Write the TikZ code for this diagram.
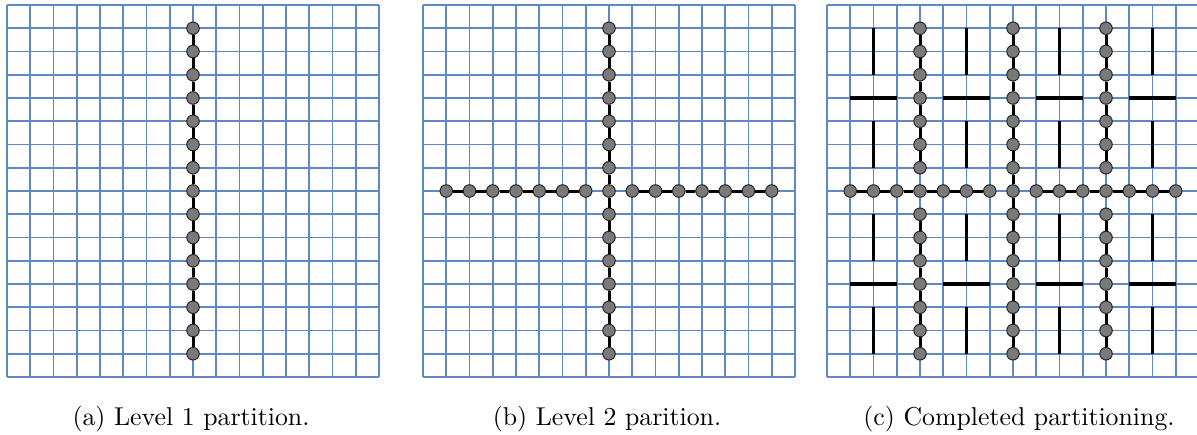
\documentclass[tikz,border=0pt]{standalone}
\definecolor{gridblue}{HTML}{6088C4}
\definecolor{dotgray}{HTML}{7A7A7A}
\tikzset{
  gridline/.style={draw=gridblue, line width=1.8pt},
  midline/.style={draw=gridblue, line width=2.3pt},
  dot/.style={circle, draw=black!85, fill=dotgray, line width=1pt, minimum size=12.5pt, inner sep=0pt},
  link/.style={line width=3pt, black},
  sepline/.style={line width=3.2pt, black},
  captext/.style={anchor=base, inner sep=0pt}
}
\newcommand{\captxt}[1]{\scalebox{2.58}{\fontsize{10}{12}\selectfont #1}}
\newcommand{\vchain}[5]{%
  \foreach \r in {#4,...,#5}{\node[dot] (#1-\r) at (#2+#3*23.25, 5+\r*23.25) {};}
  \pgfmathtruncatemacro{\mylastidx}{#5-1}
  \foreach \r [evaluate=\r as \rn using int(\r+1)] in {#4,...,\mylastidx}{\draw[link] (#1-\r) -- (#1-\rn);}
}
\newcommand{\hchain}[5]{%
  \foreach \r in {#4,...,#5}{\node[dot] (#1-\r) at (#2+\r*23.25, 5+#3*23.25) {};}
  \pgfmathtruncatemacro{\mylastidx}{#5-1}
  \foreach \r [evaluate=\r as \rn using int(\r+1)] in {#4,...,\mylastidx}{\draw[link] (#1-\r) -- (#1-\rn);}
}
\begin{document}
\begin{tikzpicture}[x=1pt,y=-1pt]
\useasboundingbox (0,0) rectangle (1197,434);
% grids
\foreach \px in {7,423,827}{
  \foreach \k in {0,...,16}{
    \draw[gridline] (\px+\k*23.25, 5) -- (\px+\k*23.25, 377);
    \draw[gridline] (\px, 5+\k*23.25) -- (\px+372, 5+\k*23.25);
  }
  \draw[midline] (\px, 5+8*23.25) -- (\px+372, 5+8*23.25);
}
% (a)
\vchain{a1}{7}{8}{1}{15}
% (b)
\vchain{b1}{423}{8}{1}{15}
\hchain{b2l}{423}{8}{1}{7}
\hchain{b2r}{423}{8}{9}{15}
% (c)
\vchain{c1}{827}{8}{1}{15}
\hchain{c2l}{827}{8}{1}{7}
\hchain{c2r}{827}{8}{9}{15}
\vchain{c3a}{827}{4}{1}{7}
\vchain{c3b}{827}{4}{9}{15}
\vchain{c3c}{827}{12}{1}{7}
\vchain{c3d}{827}{12}{9}{15}
\foreach \cc in {2,6,10,14}{
  \foreach \rc in {4,12}{
    \coordinate (s\cc-\rc-t1) at (827+\cc*23.25, 5+\rc*23.25-3*23.25);
    \coordinate (s\cc-\rc-t2) at (827+\cc*23.25, 5+\rc*23.25-1*23.25);
    \coordinate (s\cc-\rc-b1) at (827+\cc*23.25, 5+\rc*23.25+1*23.25);
    \coordinate (s\cc-\rc-b2) at (827+\cc*23.25, 5+\rc*23.25+3*23.25);
    \coordinate (s\cc-\rc-l) at (827+\cc*23.25-23.25, 5+\rc*23.25);
    \coordinate (s\cc-\rc-r) at (827+\cc*23.25+23.25, 5+\rc*23.25);
    \draw[sepline] (s\cc-\rc-t1) -- (s\cc-\rc-t2);
    \draw[sepline] (s\cc-\rc-b1) -- (s\cc-\rc-b2);
    \draw[sepline] (s\cc-\rc-l) -- (s\cc-\rc-r);
  }
}
% captions
\node[captext] (capa) at (191,425) {\captxt{(a) Level 1 partition.}};
\node[captext] (capb) at (607,425) {\captxt{(b) Level 2 parition.}};
\node[captext] (capc) at (1019,425) {\captxt{(c) Completed partitioning.}};
\end{tikzpicture}
\end{document}
